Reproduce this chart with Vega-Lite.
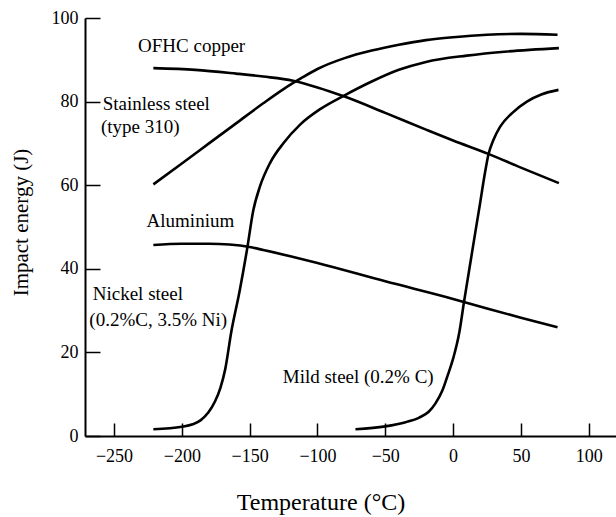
{
  "$schema": "https://vega.github.io/schema/vega-lite/v6.json",
  "width": 531,
  "height": 418,
  "autosize": "none",
  "padding": {"left": 85, "top": 18, "right": 0, "bottom": 81},
  "background": "white",
  "config": {
    "view": {"stroke": null},
    "font": "Liberation Serif"
  },
  "datasets": {
    "curves": [
      {"series": "copper", "t": -221, "e": 60.2},
      {"series": "copper", "t": -200, "e": 65.2},
      {"series": "copper", "t": -180, "e": 70},
      {"series": "copper", "t": -160, "e": 74.8},
      {"series": "copper", "t": -140, "e": 79.6},
      {"series": "copper", "t": -125, "e": 83},
      {"series": "copper", "t": -112, "e": 85.6},
      {"series": "copper", "t": -100, "e": 87.8},
      {"series": "copper", "t": -80, "e": 90.4},
      {"series": "copper", "t": -60, "e": 92.2},
      {"series": "copper", "t": -40, "e": 93.6},
      {"series": "copper", "t": -20, "e": 94.7},
      {"series": "copper", "t": 0, "e": 95.4},
      {"series": "copper", "t": 25, "e": 96},
      {"series": "copper", "t": 50, "e": 96.2},
      {"series": "copper", "t": 77, "e": 96},
      {"series": "stainless", "t": -221, "e": 88},
      {"series": "stainless", "t": -190, "e": 87.6},
      {"series": "stainless", "t": -160, "e": 86.7},
      {"series": "stainless", "t": -140, "e": 86},
      {"series": "stainless", "t": -118, "e": 85},
      {"series": "stainless", "t": -100, "e": 83.4},
      {"series": "stainless", "t": -80, "e": 81.2},
      {"series": "stainless", "t": -50, "e": 77.3},
      {"series": "stainless", "t": -20, "e": 73.3},
      {"series": "stainless", "t": 0, "e": 70.7},
      {"series": "stainless", "t": 26, "e": 67.5},
      {"series": "stainless", "t": 50, "e": 64.2},
      {"series": "stainless", "t": 78, "e": 60.5},
      {"series": "aluminium", "t": -221, "e": 45.7},
      {"series": "aluminium", "t": -200, "e": 46},
      {"series": "aluminium", "t": -180, "e": 46},
      {"series": "aluminium", "t": -165, "e": 45.8},
      {"series": "aluminium", "t": -150, "e": 45.2},
      {"series": "aluminium", "t": -140, "e": 44.5},
      {"series": "aluminium", "t": -120, "e": 43},
      {"series": "aluminium", "t": -100, "e": 41.4},
      {"series": "aluminium", "t": -50, "e": 37},
      {"series": "aluminium", "t": 0, "e": 32.8},
      {"series": "aluminium", "t": 25, "e": 30.5},
      {"series": "aluminium", "t": 50, "e": 28.3},
      {"series": "aluminium", "t": 77, "e": 26},
      {"series": "nickel", "t": -221, "e": 1.6},
      {"series": "nickel", "t": -200, "e": 2.2},
      {"series": "nickel", "t": -192, "e": 2.8},
      {"series": "nickel", "t": -186, "e": 3.8},
      {"series": "nickel", "t": -180.5, "e": 5.6},
      {"series": "nickel", "t": -175.5, "e": 8.3},
      {"series": "nickel", "t": -171.5, "e": 11.6},
      {"series": "nickel", "t": -168, "e": 16},
      {"series": "nickel", "t": -163.5, "e": 25},
      {"series": "nickel", "t": -157.5, "e": 34.5},
      {"series": "nickel", "t": -152, "e": 44.5},
      {"series": "nickel", "t": -147.3, "e": 54},
      {"series": "nickel", "t": -142.4, "e": 59.7},
      {"series": "nickel", "t": -135, "e": 65.3},
      {"series": "nickel", "t": -125, "e": 70.1},
      {"series": "nickel", "t": -112.8, "e": 74.5},
      {"series": "nickel", "t": -98, "e": 78.2},
      {"series": "nickel", "t": -80, "e": 81.5},
      {"series": "nickel", "t": -60, "e": 84.8},
      {"series": "nickel", "t": -40, "e": 87.6},
      {"series": "nickel", "t": -20, "e": 89.5},
      {"series": "nickel", "t": 10, "e": 91},
      {"series": "nickel", "t": 40, "e": 92},
      {"series": "nickel", "t": 78, "e": 92.8},
      {"series": "mild", "t": -72, "e": 1.6},
      {"series": "mild", "t": -50, "e": 2.3},
      {"series": "mild", "t": -35, "e": 3.3},
      {"series": "mild", "t": -25, "e": 4.4},
      {"series": "mild", "t": -18, "e": 5.8},
      {"series": "mild", "t": -13, "e": 7.8},
      {"series": "mild", "t": -8, "e": 10.8},
      {"series": "mild", "t": -4, "e": 14.5},
      {"series": "mild", "t": 0, "e": 18.5},
      {"series": "mild", "t": 4.7, "e": 25},
      {"series": "mild", "t": 8, "e": 32},
      {"series": "mild", "t": 12, "e": 40},
      {"series": "mild", "t": 16, "e": 48},
      {"series": "mild", "t": 19.9, "e": 55.7},
      {"series": "mild", "t": 23, "e": 62},
      {"series": "mild", "t": 26, "e": 67.3},
      {"series": "mild", "t": 29.7, "e": 70.8},
      {"series": "mild", "t": 34.7, "e": 74},
      {"series": "mild", "t": 43.3, "e": 77.2},
      {"series": "mild", "t": 54.4, "e": 80},
      {"series": "mild", "t": 65, "e": 81.7},
      {"series": "mild", "t": 77.7, "e": 82.8}
    ],
    "labels": [
      {"label": "OFHC copper", "t": -232.3, "e": 91.8},
      {"label": "Stainless steel", "t": -258.3, "e": 78.0},
      {"label": "(type 310)", "t": -259.6, "e": 72.4},
      {"label": "Aluminium", "t": -226, "e": 50.1},
      {"label": "Nickel steel", "t": -265.7, "e": 32.5},
      {"label": "(0.2%C, 3.5% Ni)", "t": -268.2, "e": 26.3},
      {"label": "Mild steel (0.2% C)", "t": -125.6, "e": 12.6}
    ]
  },
  "layer": [
    {
      "data": {"name": "curves"},
      "mark": {"type": "line", "interpolate": "monotone", "color": "black", "strokeWidth": 2.6},
      "encoding": {
        "x": {
          "field": "t", "type": "quantitative",
          "scale": {"domain": [-271.4, 120.1], "nice": false, "zero": false},
          "axis": {
            "title": "Temperature (°C)",
            "values": [-250, -200, -150, -100, -50, 0, 50, 100],
            "grid": false,
            "domainColor": "black", "domainWidth": 2,
            "tickColor": "black", "tickWidth": 1.5, "tickSize": -13,
            "labelFont": "Liberation Serif", "labelFontSize": 18, "labelColor": "black",
            "labelPadding": 24,
            "titleFont": "Liberation Serif", "titleFontSize": 24, "titleFontWeight": "normal", "titleColor": "black",
            "titleX": 235.5, "titleY": 73, "titleBaseline": "alphabetic", "titleAlign": "center"
          }
        },
        "y": {
          "field": "e", "type": "quantitative",
          "scale": {"domain": [0, 100], "nice": false},
          "axis": {
            "title": "Impact energy (J)",
            "values": [0, 20, 40, 60, 80, 100],
            "grid": false,
            "domainColor": "black", "domainWidth": 2,
            "tickColor": "black", "tickWidth": 1.5, "tickSize": -15,
            "labelFont": "Liberation Serif", "labelFontSize": 18, "labelColor": "black",
            "labelPadding": 22,
            "titleFont": "Liberation Serif", "titleFontSize": 21, "titleFontWeight": "normal", "titleColor": "black",
            "titleX": -58, "titleY": 204, "titleBaseline": "alphabetic", "titleAlign": "center", "titleAngle": -90
          }
        },
        "detail": {"field": "series"}
      }
    },
    {
      "data": {"name": "labels"},
      "mark": {"type": "text", "align": "left", "baseline": "alphabetic", "font": "Liberation Serif", "fontSize": 19, "color": "black"},
      "encoding": {
        "x": {"field": "t", "type": "quantitative"},
        "y": {"field": "e", "type": "quantitative"},
        "text": {"field": "label"}
      }
    }
  ]
}
